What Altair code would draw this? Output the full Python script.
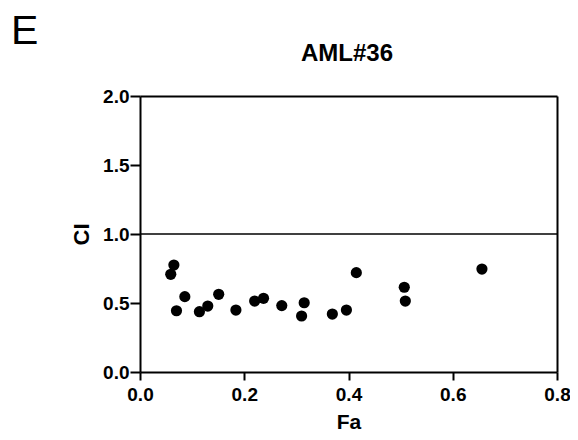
import altair as alt
import pandas as pd

fa = [0.065, 0.059, 0.086, 0.070, 0.114, 0.130, 0.151, 0.184, 0.220, 0.237,
      0.272, 0.310, 0.315, 0.369, 0.396, 0.415, 0.507, 0.509, 0.656]
ci = [0.775, 0.708, 0.546, 0.444, 0.437, 0.478, 0.563, 0.449, 0.514, 0.534,
      0.481, 0.406, 0.502, 0.420, 0.449, 0.720, 0.614, 0.514, 0.746]
x_ticks = [0.0, 0.2, 0.4, 0.6, 0.8]
y_ticks = [0.0, 0.5, 1.0, 1.5, 2.0]
ref_line = [1.0]

df = pd.DataFrame({"Fa": fa, "CI": ci})
FONT = "Liberation Sans"

x_scale = alt.Scale(domain=[0, 0.8], nice=False, zero=False)
y_scale = alt.Scale(domain=[0, 2.0], nice=False)

x_enc = alt.X("Fa:Q", scale=x_scale,
              axis=alt.Axis(values=x_ticks, format=".1f", title="Fa", grid=False,
                            labelFontSize=19, labelFontWeight="bold", labelFont=FONT,
                            titleFontSize=21, titleFontWeight="bold", titleFont=FONT,
                            domainWidth=2, domainColor="black", tickWidth=2, tickColor="black",
                            tickSize=8, labelPadding=5, titlePadding=7, labelColor="black",
                            titleColor="black", labelFlush=False))
y_enc = alt.Y("CI:Q", scale=y_scale,
              axis=alt.Axis(values=y_ticks, format=".1f", title="CI", grid=False,
                            labelFontSize=19, labelFontWeight="bold", labelFont=FONT,
                            titleFontSize=22, titleFontWeight="bold", titleFont=FONT,
                            domainWidth=2, domainColor="black", tickWidth=2, tickColor="black",
                            tickSize=10, labelPadding=1, titlePadding=9, labelColor="black",
                            titleColor="black", labelFlush=False))

# invisible layer that draws the top and right frame lines as axis domains
frame = alt.Chart(df).mark_circle(opacity=0).encode(
    x=alt.X("Fa:Q", scale=x_scale,
            axis=alt.Axis(orient="top", labels=False, ticks=False, title=None, grid=False,
                          domainWidth=2, domainColor="black")),
    y=alt.Y("CI:Q", scale=y_scale,
            axis=alt.Axis(orient="right", labels=False, ticks=False, title=None, grid=False,
                          domainWidth=2, domainColor="black")),
)

points = alt.Chart(df).mark_circle(size=125, color="black", opacity=1).encode(x=x_enc, y=y_enc)

line = alt.Chart(pd.DataFrame({"y": ref_line})).mark_rule(color="black", strokeWidth=1.5).encode(
    y=alt.Y("y:Q", scale=y_scale, axis=None)
)

panel = alt.Chart(pd.DataFrame({"t": ["E"]})).mark_text(
    text="E", font=FONT, fontSize=41, align="left", baseline="alphabetic", color="black"
).encode(x=alt.value(-129), y=alt.value(-52))

title = alt.Chart(pd.DataFrame({"t": ["AML#36"]})).mark_text(
    text="AML#36", font=FONT, fontSize=24, fontWeight="bold", align="center",
    baseline="alphabetic", color="black"
).encode(x=alt.value(207), y=alt.value(-35))

chart = alt.layer(line, frame, points, panel, title).resolve_axis(
    x="independent", y="independent"
).properties(
    width=417, height=276,
    background="white",
    autosize=alt.AutoSizeParams(type="none"),
    padding={"left": 132, "top": 88, "right": 13, "bottom": 60},
).configure_view(stroke=None)

chart.save("out.html", embed_options={"renderer": "svg", "actions": False})
